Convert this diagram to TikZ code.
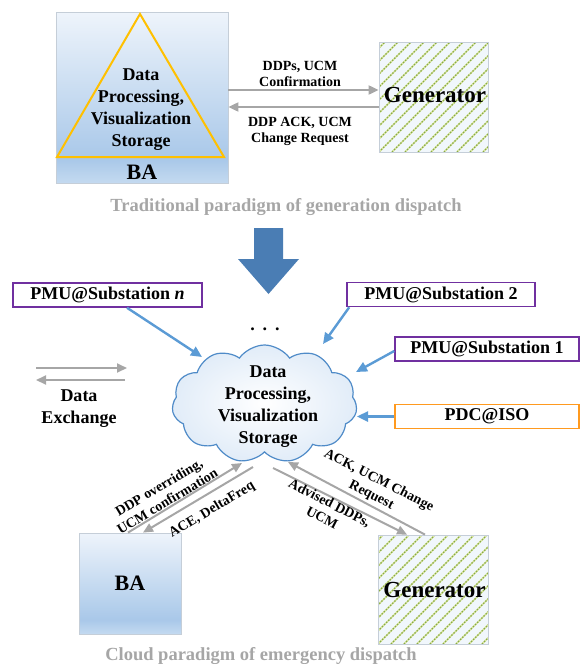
\documentclass[tikz,border=0pt]{standalone}
\usepackage{fontspec}
\setmainfont{Liberation Serif}
\usetikzlibrary{arrows.meta,shapes.symbols}

\definecolor{grayarrow}{HTML}{A6A6A6}
\definecolor{bluearrow}{HTML}{5B9BD5}
\definecolor{bigarrow}{HTML}{4A7DB4}
\definecolor{pmupurple}{HTML}{7030A0}
\definecolor{pdcorange}{HTML}{FF9A1F}
\definecolor{trigold}{HTML}{FFC000}
\definecolor{boxedge}{HTML}{C5CED8}
\definecolor{cloudedge}{HTML}{4F8BC8}
\definecolor{cloudout}{HTML}{E1ECF8}
\definecolor{captiongray}{HTML}{A6A6A6}
\definecolor{baA}{HTML}{EEF4FB}
\definecolor{baB}{HTML}{A9C8E9}
\definecolor{baC}{HTML}{C4DAF0}
\definecolor{genfill}{HTML}{F1F7FC}
\definecolor{stripebase}{HTML}{DDE7A2}
\definecolor{stripedot}{HTML}{86AA48}

% light-to-blue fill of the balancing authority boxes, a little lighter at the very bottom
\pgfdeclareverticalshading{baShade}{100bp}{color(0bp)=(baC); color(25bp)=(baC); color(32bp)=(baB); color(75bp)=(baA); color(100bp)=(baA)}

\tikzset{
  babox/.style={draw=boxedge, line width=0.8pt, shading=baShade, inner sep=0pt},
  genbox/.style={draw=boxedge, line width=0.8pt, fill=genfill, inner sep=0pt,
    path picture={
      \foreach \k in {-10,...,9}{
        \draw[stripebase, line width=1.6pt] ([xshift=\k*13pt]path picture bounding box.south west) -- ++(140pt,140pt);
        \draw[stripedot, line width=1.2pt, dash pattern=on 1.4pt off 1.6pt] ([xshift=\k*13pt]path picture bounding box.south west) -- ++(140pt,140pt);
      }
    }},
  grayarr/.style={draw=grayarrow, line width=2pt, -{Triangle[length=10pt,width=9pt]}},
  bluearr/.style={draw=bluearrow, line width=2.4pt, -{Triangle[length=11pt,width=10pt]}},
  lbl/.style={font=\bfseries\fontsize{14}{16.5}\selectfont, align=center, inner sep=0pt},
  bigtxt/.style={font=\bfseries\fontsize{18}{22}\selectfont, align=center, inner sep=0pt},
  pmubox/.style={draw=pmupurple, line width=1.5pt, minimum height=24pt, inner sep=0pt,
    font=\bfseries\fontsize{18}{22}\selectfont},
  pdcbox/.style={pmubox, draw=pdcorange},
  caption/.style={font=\bfseries\fontsize{18.5}{22}\selectfont, text=captiongray, inner sep=0pt}
}

\begin{document}
\begin{tikzpicture}[x=1pt,y=-1pt]
\useasboundingbox (0,0) rectangle (580,664);

% ---------- traditional paradigm ----------
\node[babox, minimum width=172pt, minimum height=171pt] (ba1) at (142,97.5) {};
\draw[trigold, line width=2pt] (140,14) -- (224,157) -- (57,157) -- cycle;
\node[bigtxt] (ba1txt) at (141,110) {Data\\Processing,\\Visualization\\Storage};
\node[font=\bfseries\fontsize{22}{24}\selectfont, inner sep=0pt] (ba1lbl) at (142,172.5) {BA};

\node[genbox, minimum width=109pt, minimum height=110pt] (gen1) at (433.5,97) {};
\node[font=\bfseries\fontsize{23}{26}\selectfont, inner sep=0pt] (gen1lbl) at (435,95) {Generator};

\draw[grayarr] (ba1.east |- 0,90) -- (gen1.west |- 0,90);
\draw[grayarr] (gen1.west |- 0,107) -- (ba1.east |- 0,107);
\node[lbl] (lblA) at (300,74) {DDPs, UCM\\Confirmation};
\node[lbl] (lblB) at (300,131.5) {DDP ACK, UCM\\Change Request};

\node[caption] (cap1) at (286,207) {Traditional paradigm of generation dispatch};

% ---------- transition arrow ----------
\fill[bigarrow] (254,228) -- (283,228) -- (283,259) -- (299,259) -- (268.5,294) -- (238,259) -- (254,259) -- cycle;

% ---------- cloud paradigm ----------
\node[cloud, cloud puffs=11, cloud puff arc=110, cloud ignores aspect,
      minimum width=185pt, minimum height=118pt, inner sep=0pt,
      draw=cloudedge, line width=1.2pt, inner color=white, outer color=cloudout] (cloud) at (264.5,404) {};
\node[bigtxt] (cloudtxt) at (268,406.5) {Data\\Processing,\\Visualization\\Storage};

\node[pmubox, minimum width=189pt] (pmun) at (107.5,295) {PMU@Substation \textit{n}};
\node[pmubox, minimum width=188pt] (pmu2) at (441,294.5) {PMU@Substation 2};
\node[pmubox, minimum width=184pt] (pmu1) at (487,349) {PMU@Substation 1};
\node[pdcbox, minimum width=184pt] (pdc) at (487,416.5) {PDC@ISO};

\node[font=\bfseries\fontsize{18}{22}\selectfont, inner sep=0pt, anchor=base] (dots) at (265,330) {.\hspace{8pt}.\hspace{8pt}.};

% points where the connectors meet the cloud
\coordinate (cN) at (202,357);
\coordinate (cTwo) at (323,344);
\coordinate (cOne) at (356,372);
\coordinate (cPDC) at (357,416.5);
\coordinate (cBAin) at (242,463);
\coordinate (cBAout) at (253,467);
\coordinate (cGenin) at (288,462);
\coordinate (cGenout) at (273,468);

\draw[bluearr] ([xshift=19.5pt]pmun.south) -- (cN);
\draw[bluearr] ([xshift=3pt]pmu2.south west) -- (cTwo);
\draw[bluearr] ([yshift=-2pt]pmu1.west) -- (cOne);
\draw[bluearr] (pdc.west) -- (cPDC);

% data exchange legend
\coordinate (dxL1) at (36,368);
\coordinate (dxR1) at (127,368);
\coordinate (dxR2) at (125,380);
\coordinate (dxL2) at (36,380);
\draw[grayarr] (dxL1) -- (dxR1);
\draw[grayarr] (dxR2) -- (dxL2);
\node[bigtxt] (dxtxt) at (79,408.5) {Data\\Exchange};

% balancing authority and generator below the cloud
\node[babox, minimum width=102pt, minimum height=101pt] (ba2) at (130,583.5) {};
\node[font=\bfseries\fontsize{22}{24}\selectfont, inner sep=0pt] (ba2lbl) at (130,583) {BA};
\node[genbox, minimum width=110pt, minimum height=109pt] (gen2) at (433,589.5) {};
\node[font=\bfseries\fontsize{23}{26}\selectfont, inner sep=0pt] (gen2lbl) at (434.5,590) {Generator};

\draw[grayarr] ([xshift=-2pt]ba2.north) -- (cBAin);
\draw[grayarr] (cBAout) -- ([xshift=13pt]ba2.north);
\draw[grayarr] ([xshift=-8pt]gen2.north) -- (cGenin);
\draw[grayarr] (cGenout) -- ([xshift=-26pt]gen2.north);

\node[lbl, rotate=31] (lblC) at (163,494) {DDP overriding,\\UCM confirmation};
\node[lbl, rotate=31] (lblD) at (212,510) {ACE, DeltaFreq};
\node[lbl, rotate=-27] (lblE) at (375,488) {ACK, UCM Change\\Request};
\node[lbl, rotate=-27] (lblF) at (326,510) {Advised DDPs,\\UCM};

\node[caption] (cap2) at (261,656) {Cloud paradigm of emergency dispatch};
\end{tikzpicture}
\end{document}
